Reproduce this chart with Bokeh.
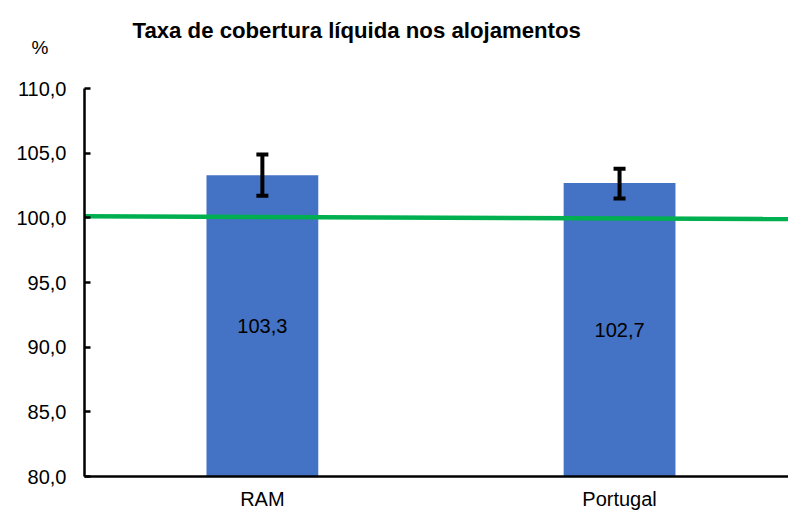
from bokeh.plotting import figure
from bokeh.models import Range1d, FixedTicker, Label, ColumnDataSource
from bokeh.core.properties import value
from bokeh.embed import file_html
from bokeh.resources import INLINE

title_text = "Taxa de cobertura líquida nos alojamentos"
unit_text = "%"
categories = ["RAM", "Portugal"]
values = [103.3, 102.7]
err_low = [101.7, 101.5]
err_high = [104.9, 103.8]
ref_line = [100.12, 99.9]
y_ticks = [80, 85, 90, 95, 100, 105, 110]

FONT = "Liberation Sans"
xs = list(range(len(categories)))
x_start, x_end = -0.498, 1.473

p = figure(width=788, height=512, output_backend="svg", toolbar_location=None,
           x_range=Range1d(x_start, x_end), y_range=Range1d(80, 110),
           min_border_left=84, min_border_right=0, min_border_top=88, min_border_bottom=36)
p.title.text = ""
p.title.standoff = 0

p.xgrid.visible = False
p.ygrid.visible = False
p.outline_line_color = None
p.background_fill_color = "white"
p.border_fill_color = "white"

src = ColumnDataSource(dict(x=xs, top=values, lo=err_low, hi=err_high,
                            lab=[f"{v:.1f}".replace(".", ",") for v in values],
                            mid=[(v + y_ticks[0]) / 2 for v in values]))
p.vbar(x="x", top="top", bottom=y_ticks[0], width=0.313, source=src,
       fill_color="#4472c4", line_color=None)

p.line([x_start, x_end], ref_line, line_color="#00b050", line_width=4.5)

p.segment(x0="x", y0="lo", x1="x", y1="hi", source=src, line_color="black", line_width=4)
for key in ("lo", "hi"):
    p.rect(x="x", y=key, width=12, height=4, width_units="screen", height_units="screen",
           source=src, fill_color="black", line_color=None)

p.text(x="x", y="mid", text="lab", source=src, text_align="center", text_baseline="middle",
       text_font=value(FONT), text_font_size="20px", text_color="black")

p.yaxis.ticker = FixedTicker(ticks=y_ticks)
p.yaxis.major_label_overrides = {t: f"{t:.1f}".replace(".", ",") for t in y_ticks}
p.yaxis.major_tick_in = 6
p.yaxis.major_tick_out = 0
p.yaxis.minor_tick_line_color = None
p.yaxis.axis_line_width = 2.5
p.yaxis.major_tick_line_width = 2.5
p.yaxis.axis_line_color = "black"
p.yaxis.major_label_text_font = FONT
p.yaxis.major_label_text_font_size = "20px"
p.yaxis.major_label_text_color = "black"
p.yaxis.major_label_standoff = 18

p.xaxis.ticker = FixedTicker(ticks=xs)
p.xaxis.major_label_overrides = {i: c for i, c in zip(xs, categories)}
p.xaxis.major_tick_line_color = None
p.xaxis.minor_tick_line_color = None
p.xaxis.axis_line_width = 2.5
p.xaxis.axis_line_color = "black"
p.xaxis.major_label_text_font = FONT
p.xaxis.major_label_text_font_size = "20px"
p.xaxis.major_label_text_color = "black"
p.xaxis.major_label_standoff = 5

p.add_layout(Label(x=-53, y=41, x_units="screen", y_units="screen", text=unit_text,
                   text_font=FONT, text_font_size="19px", text_color="black",
                   text_baseline="middle"), "above")
p.add_layout(Label(x=48, y=37, x_units="screen", y_units="screen", text=title_text,
                   text_font=FONT, text_font_size="22.2px", text_font_style="bold",
                   text_color="black", text_baseline="middle"), "above")

open("out.html", "w").write(file_html(p, INLINE))
